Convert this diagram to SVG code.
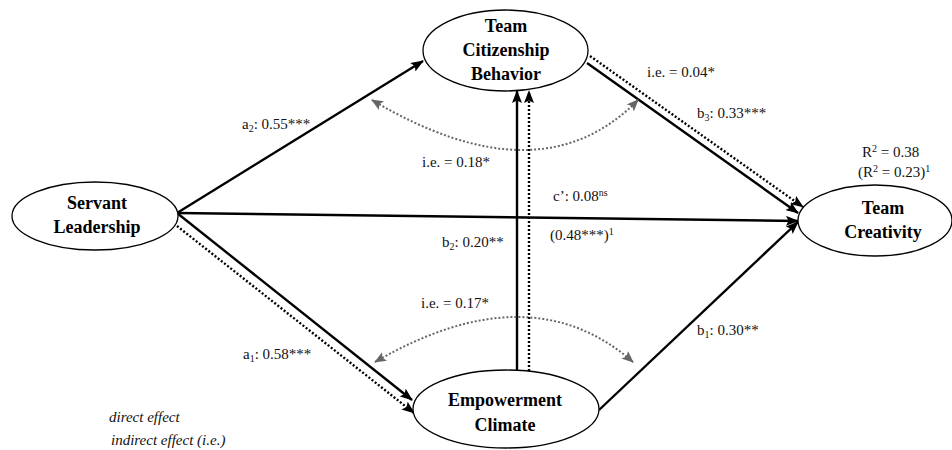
<svg xmlns="http://www.w3.org/2000/svg" width="952" height="450" viewBox="0 0 952 450">
<defs>
<marker id="ah" markerUnits="userSpaceOnUse" markerWidth="13" markerHeight="10" viewBox="0 0 13 10" refX="12" refY="5" orient="auto">
<path d="M0,0 L13,5 L0,10 L2.5,5 z" fill="#000"/>
</marker>
<marker id="ag" markerUnits="userSpaceOnUse" markerWidth="12" markerHeight="10" viewBox="0 0 12 10" refX="11" refY="5" orient="auto-start-reverse">
<path d="M0,0 L12,5 L0,10 L2.5,5 z" fill="#666"/>
</marker>
<style>
.node ellipse{fill:#fff;stroke:#000;stroke-width:1.3}
.nt{font-family:"Liberation Serif","Times New Roman",serif;font-weight:bold;font-size:18px;text-anchor:middle;fill:#000}
.lbl{font-family:"Liberation Serif","Times New Roman",serif;font-size:15px;fill:#111}
.leg{font-family:"Liberation Serif","Times New Roman",serif;font-size:15px;font-style:italic;fill:#111}
.sol{fill:none;stroke:#000;stroke-width:2.4;marker-end:url(#ah)}
.dot{fill:none;stroke:#000;stroke-width:2.4;stroke-dasharray:2 2;marker-end:url(#ah)}
.cur{fill:none;stroke:#666;stroke-width:2;stroke-dasharray:2 2;marker-start:url(#ag);marker-end:url(#ag)}
</style>
</defs>
<rect width="952" height="450" fill="#fff"/>
<g id="connectors">
<line class="sol" x1="177" y1="213" x2="423" y2="61"/>
<line class="sol" x1="177" y1="213" x2="798" y2="221"/>
<line class="sol" x1="177" y1="213" x2="412" y2="400"/>
<line class="dot" x1="177" y1="226" x2="414" y2="413"/>
<line class="sol" x1="587" y1="63" x2="798" y2="213"/>
<line class="dot" x1="590" y1="56" x2="803" y2="207"/>
<line class="sol" x1="599" y1="410" x2="798" y2="222"/>
<line class="sol" x1="517" y1="370" x2="517" y2="91"/>
<line class="dot" x1="529" y1="371" x2="529" y2="91"/>
<path class="cur" d="M372,100 Q540,200 638,100"/>
<path class="cur" d="M375,362 Q530,272 633,362"/>
</g>
<g id="servant-leadership" class="node">
<ellipse cx="95" cy="216" rx="83" ry="34"/>
<text class="nt" x="97" y="209">Servant</text>
<text class="nt" x="97" y="233">Leadership</text>
</g>
<g id="team-citizenship-behavior" class="node">
<ellipse cx="505.5" cy="50.5" rx="82.5" ry="40.5"/>
<text class="nt" x="506" y="32">Team</text>
<text class="nt" x="506" y="56">Citizenship</text>
<text class="nt" x="506" y="80">Behavior</text>
</g>
<g id="empowerment-climate" class="node">
<ellipse cx="506" cy="409" rx="93" ry="39"/>
<text class="nt" x="505" y="406">Empowerment</text>
<text class="nt" x="505" y="431">Climate</text>
</g>
<g id="team-creativity" class="node">
<ellipse cx="875" cy="220.5" rx="77" ry="35.5"/>
<text class="nt" x="883" y="214">Team</text>
<text class="nt" x="883" y="238">Creativity</text>
</g>
<g id="labels">
<text class="lbl" x="242" y="129">a<tspan font-size="10" dy="3">2</tspan><tspan dy="-3">: 0.55***</tspan></text>
<text class="lbl" x="422" y="167">i.e. = 0.18*</text>
<text class="lbl" x="647" y="77">i.e. = 0.04*</text>
<text class="lbl" x="697" y="118">b<tspan font-size="10" dy="3">3</tspan><tspan dy="-3">: 0.33***</tspan></text>
<text class="lbl" x="862" y="157">R<tspan font-size="10" dy="-5">2</tspan><tspan dy="5"> = 0.38</tspan></text>
<text class="lbl" x="858" y="177">(R<tspan font-size="10" dy="-5">2</tspan><tspan dy="5"> = 0.23)</tspan><tspan font-size="10" dy="-5">1</tspan></text>
<text class="lbl" x="553" y="201">c’: 0.08<tspan font-size="10" dy="-5">ns</tspan></text>
<text class="lbl" x="550" y="240">(0.48***)<tspan font-size="10" dy="-5">1</tspan></text>
<text class="lbl" x="442" y="247">b<tspan font-size="10" dy="3">2</tspan><tspan dy="-3">: 0.20**</tspan></text>
<text class="lbl" x="421" y="308">i.e. = 0.17*</text>
<text class="lbl" x="243" y="359">a<tspan font-size="10" dy="3">1</tspan><tspan dy="-3">: 0.58***</tspan></text>
<text class="lbl" x="697" y="335">b<tspan font-size="10" dy="3">1</tspan><tspan dy="-3">: 0.30**</tspan></text>
<text class="leg" x="109" y="422">direct effect</text>
<text class="leg" x="111" y="445">indirect effect (i.e.)</text>
</g>
</svg>
